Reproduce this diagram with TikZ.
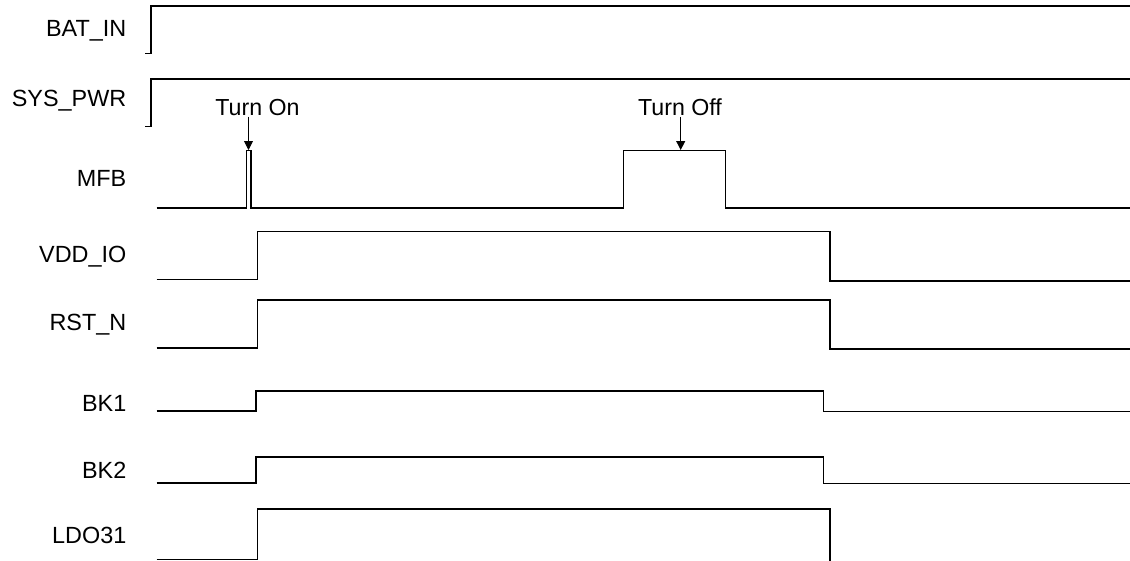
\documentclass[tikz,border=0pt]{standalone}
\usepackage{fontspec}
\setmainfont{Liberation Sans}
\usetikzlibrary{arrows.meta}
\begin{document}
\begin{tikzpicture}[x=1pt,y=-1pt,
  sig/.style={line width=1.5pt,line join=miter},
  lbl/.style={inner sep=0pt,anchor=base east,font=\fontsize{23.4}{28}\selectfont},
  evt/.style={inner sep=0pt,anchor=base,font=\fontsize{23.2}{28}\selectfont},
  pointer/.style={line width=0.9pt,-{Triangle[width=9pt,length=9pt]}}]
\useasboundingbox[fill=white] (0,0) rectangle (1130,560);
% labels
\node[lbl] (lbat) at (126.5,36.7) {BAT\_IN};
\node[lbl] (lsys) at (126.5,106.7) {SYS\_PWR};
\node[lbl] (lmfb) at (126.5,186.7) {MFB};
\node[lbl] (lvdd) at (126.5,262.7) {VDD\_IO};
\node[lbl] (lrst) at (126.5,330) {RST\_N};
\node[lbl] (lbk1) at (126.5,411.7) {BK1};
\node[lbl] (lbk2) at (126.5,478.3) {BK2};
\node[lbl] (lldo) at (126.5,543.3) {LDO31};
% signals
\draw[sig] (145,53.3) -- (151,53.3) -- (151,6) -- (1131,6);
\draw[sig] (145,126.7) -- (151,126.7) -- (151,79) -- (1131,79);
\draw[sig] (156.7,208) -- (246.7,208) -- (246.7,150.7) -- (251,150.7) -- (251,208)
  -- (623.3,208) -- (623.3,150.7) -- (725.7,150.7) -- (725.7,208) -- (1131,208);
\draw[sig] (156.7,279.3) -- (257.5,279.3) -- (257.5,231.7) -- (830,231.7) -- (830,281) -- (1131,281);
\draw[sig] (156.7,347.8) -- (257.5,347.8) -- (257.5,299.8) -- (830,299.8) -- (830,349) -- (1131,349);
\draw[sig] (156.7,411) -- (256,411) -- (256,390.8) -- (823.3,390.8) -- (823.3,411.7) -- (1131,411.7);
\draw[sig] (156.7,483) -- (256,483) -- (256,457.2) -- (823.3,457.2) -- (823.3,483.3) -- (1131,483.3);
\draw[sig] (156.7,559.5) -- (257.3,559.5) -- (257.3,509.2) -- (830,509.2) -- (830,562);
% events
\node[evt] (ton) at (257.5,115) {Turn On};
\node[evt] (toff) at (680,115) {Turn Off};
\coordinate (tonA) at (248.5,116.7);
\coordinate (tonB) at (248.5,150);
\coordinate (toffA) at (680.7,116.7);
\coordinate (toffB) at (680.7,150);
\draw[pointer] (tonA) -- (tonB);
\draw[pointer] (toffA) -- (toffB);
\end{tikzpicture}
\end{document}
